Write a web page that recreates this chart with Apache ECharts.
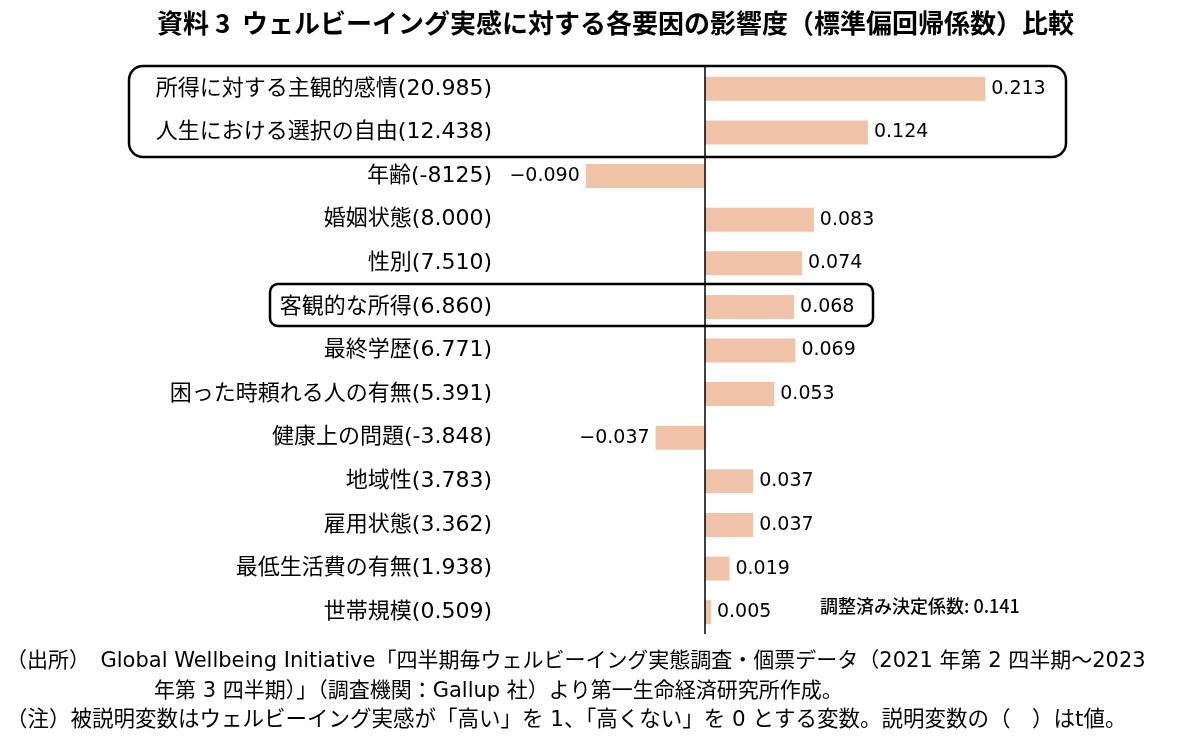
<!DOCTYPE html>
<html>
<head>
<meta charset="utf-8">
<script src="https://cdn.jsdelivr.net/npm/echarts@6/dist/echarts.min.js"></script>
<style>
  html, body { margin: 0; padding: 0; background: #fff; }
  #chart { width: 1192px; height: 756px; }
</style>
</head>
<body>
<div id="chart"></div>
<script>
// factors, top to bottom
const factors = [
  '所得に対する主観的感情', '人生における選択の自由', '年齢', '婚姻状態', '性別',
  '客観的な所得', '最終学歴', '困った時頼れる人の有無', '健康上の問題',
  '地域性', '雇用状態', '最低生活費の有無', '世帯規模'
];
const tValues = [
  '20.985', '12.438', '-8125', '8.000', '7.510',
  '6.860', '6.771', '5.391', '-3.848',
  '3.783', '3.362', '1.938', '0.509'
];
const coefs = [0.213, 0.124, -0.090, 0.083, 0.074, 0.068, 0.069, 0.053, -0.037, 0.037, 0.037, 0.019, 0.005];

const font = '"Noto Sans CJK JP", "Noto Sans", sans-serif';
const wideFont = '"DejaVu Sans", "Noto Sans CJK JP", sans-serif';
const categories = factors.map((f, i) => f + '(' + tValues[i] + ')');

const chart = echarts.init(document.getElementById('chart'), null, { renderer: 'canvas' });

const fmt = v => (v < 0 ? '\u2212' : '') + Math.abs(v).toFixed(3);

chart.setOption({
  backgroundColor: '#fff',
  animation: false,
  title: {
    text: '資料 3  ウェルビーイング実感に対する各要因の影響度（標準偏回帰係数）比較',
    left: 152,
    top: 5,
    textStyle: { fontFamily: font, fontSize: 26, fontWeight: 'bold', color: '#000' }
  },
  grid: { left: 500, top: 67, width: 600, height: 567 },
  xAxis: {
    type: 'value',
    min: -0.155,
    max: 0.3,
    show: false
  },
  yAxis: {
    type: 'category',
    data: categories,
    inverse: true,
    axisLine: { show: false },
    axisTick: { show: false },
    axisLabel: { margin: 8, color: '#000', fontFamily: wideFont, fontSize: 22 }
  },
  series: [{
    type: 'bar',
    data: coefs.map(v => ({
      value: v,
      label: { position: v < 0 ? 'left' : 'right' }
    })),
    barCategoryGap: '45%',
    itemStyle: { color: '#f0c3a8' },
    label: {
      show: true,
      distance: 6,
      color: '#000',
      fontFamily: wideFont,
      fontSize: 19,
      formatter: p => fmt(p.value)
    },
    markLine: {
      silent: true,
      symbol: 'none',
      label: { show: false },
      lineStyle: { color: '#000', width: 1.5, type: 'solid' },
      data: [{ xAxis: 0 }]
    }
  }],
  graphic: [
    { type: 'rect', shape: { x: 129, y: 66, width: 937, height: 91, r: 14 },
      style: { fill: 'none', stroke: '#000', lineWidth: 2.5 }, z: 10 },
    { type: 'rect', shape: { x: 270, y: 284, width: 603, height: 42, r: 8 },
      style: { fill: 'none', stroke: '#000', lineWidth: 2.5 }, z: 10 },
    { type: 'text', left: 820, top: 597,
      style: { text: '調整済み決定係数: 0.141', fontFamily: font, fontSize: 18, fontWeight: 500, fill: '#000' } },
    { type: 'text', left: 6, top: 651,
      style: { text: '（出所）　Global Wellbeing Initiative「四半期毎ウェルビーイング実態調査・個票データ（2021 年第 2 四半期～2023',
        fontFamily: wideFont, fontSize: 21, fill: '#000' } },
    { type: 'text', left: 154, top: 681,
      style: { text: '年第 3 四半期）」（調査機関：Gallup 社）より第一生命経済研究所作成。',
        fontFamily: wideFont, fontSize: 21, fill: '#000' } },
    { type: 'text', left: 6, top: 710,
      style: { text: '（注）被説明変数はウェルビーイング実感が「高い」を 1、「高くない」を 0 とする変数。説明変数の（　）はt値。',
        fontFamily: wideFont, fontSize: 21.5, fill: '#000' } }
  ]
});
</script>
</body>
</html>
